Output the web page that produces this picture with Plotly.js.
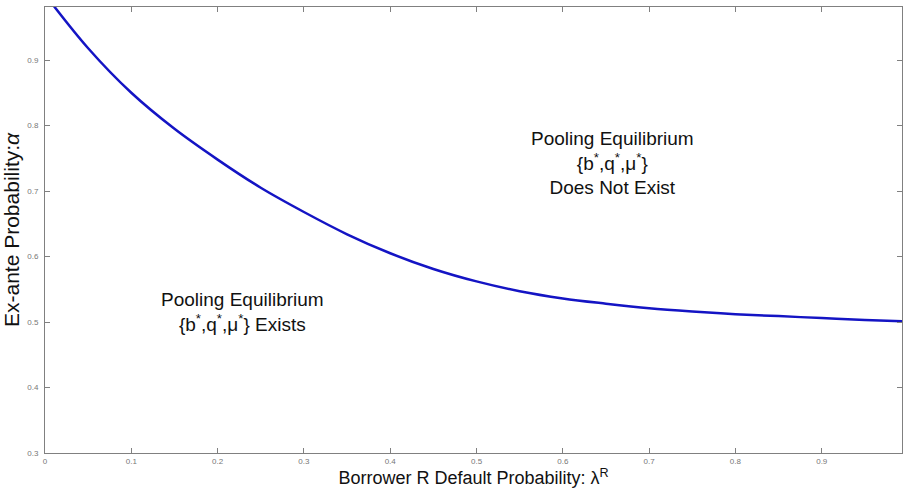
<!DOCTYPE html>
<html>
<head>
<meta charset="utf-8">
<script src="https://cdn.plot.ly/plotly-3.0.1.min.js"></script>
<style>html,body{margin:0;padding:0;background:#fff;}#chart{width:903px;height:498px;}</style>
</head>
<body>
<div id="chart"></div>
<script>
const lambdaR = [0, 0.05, 0.1, 0.15, 0.2, 0.25, 0.3, 0.35, 0.4, 0.45, 0.5, 0.55, 0.6, 0.65, 0.7, 0.75, 0.8, 0.85, 0.9, 0.95, 0.993];
const alphaVals = [1.0, 0.918, 0.850, 0.795, 0.748, 0.705, 0.668, 0.634, 0.605, 0.581, 0.562, 0.547, 0.536, 0.528, 0.521, 0.516, 0.512, 0.509, 0.506, 0.503, 0.501];
const xTicks = [0, 0.1, 0.2, 0.3, 0.4, 0.5, 0.6, 0.7, 0.8, 0.9];
const xTickText = ["0", "0.1", "0.2", "0.3", "0.4", "0.5", "0.6", "0.7", "0.8", "0.9"];
const yTicks = [0.3, 0.4, 0.5, 0.6, 0.7, 0.8, 0.9];
const yTickText = ["0.3", "0.4", "0.5", "0.6", "0.7", "0.8", "0.9"];
const labelNotExist = "Pooling Equilibrium<br>{b<sup>*</sup>,q<sup>*</sup>,μ<sup>*</sup>}<br>Does Not Exist";
const labelExists = "Pooling Equilibrium<br>{b<sup>*</sup>,q<sup>*</sup>,μ<sup>*</sup>} Exists";

const trace = {
  x: lambdaR, y: alphaVals, type: 'scatter', mode: 'lines',
  line: {color: '#1414c4', width: 2.5, shape: 'spline', smoothing: 1},
  hoverinfo: 'skip'
};
const axisCommon = {
  showline: true, linecolor: '#808080', linewidth: 1, mirror: 'allticks',
  ticks: 'inside', ticklen: 5, tickcolor: '#808080', showgrid: false, zeroline: false,
  tickfont: {family: 'Liberation Sans, Arial, sans-serif', size: 8, color: '#777'}
};
const layout = {
  width: 903, height: 498,
  margin: {l: 45, r: 1, t: 7, b: 45},
  paper_bgcolor: '#fff', plot_bgcolor: '#fff',
  showlegend: false,
  font: {family: 'Liberation Sans, Arial, sans-serif', color: '#111'},
  xaxis: Object.assign({}, axisCommon, {
    range: [0, 0.993], tickvals: xTicks, ticktext: xTickText,
    title: {text: 'Borrower R Default Probability: λ<sup>R</sup>', font: {size: 18, color: '#111'}, standoff: 6}
  }),
  yaxis: Object.assign({}, axisCommon, {
    range: [0.3, 0.981], tickvals: yTicks, ticktext: yTickText, ticklabelstandoff: 4,
    title: {text: 'Ex-ante Probability:<i>α</i>', font: {size: 21, color: '#111'}, standoff: 4}
  }),
  annotations: [
    {x: 0.658, y: 0.743, xref: 'x', yref: 'y', text: labelNotExist, showarrow: false,
     font: {size: 19, color: '#111'}, align: 'center'},
    {x: 0.229, y: 0.515, xref: 'x', yref: 'y', text: labelExists, showarrow: false,
     font: {size: 19, color: '#111'}, align: 'center'}
  ]
};
Plotly.newPlot('chart', [trace], layout, {staticPlot: true, displayModeBar: false});
</script>
</body>
</html>
